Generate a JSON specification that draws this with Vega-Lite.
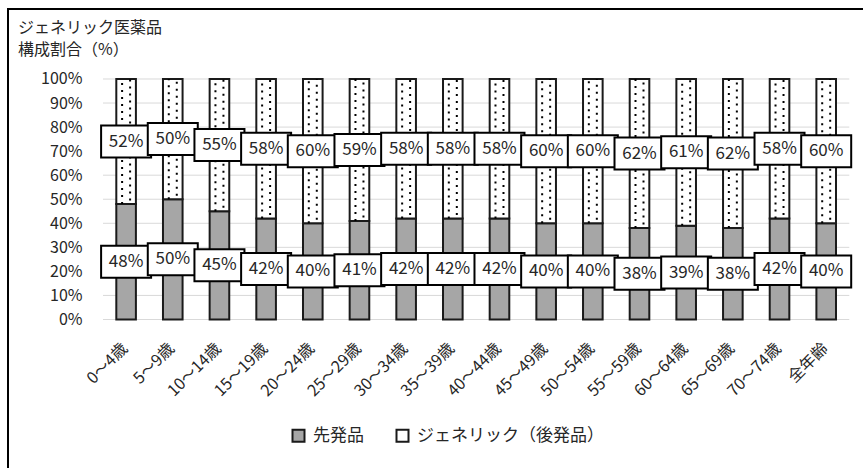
{
  "$schema": "https://vega.github.io/schema/vega-lite/v6.json",
  "width": 858,
  "height": 462,
  "autosize": {"type": "none"},
  "padding": {"left": 8, "top": 9, "right": -3, "bottom": -3},
  "background": "white",
  "title": {
    "text": ["ジェネリック医薬品", "構成割合（%）"],
    "anchor": "start",
    "frame": "group",
    "orient": "top",
    "offset": -49,
    "dx": 10,
    "fontSize": 16,
    "fontWeight": "normal",
    "lineHeight": 22,
    "color": "#262626",
    "font": "Noto Sans CJK JP"
  },
  "datasets": {
    "shares": [
      {"age": "0～4歳", "type": "先発品", "v": 0.48},
      {"age": "0～4歳", "type": "ジェネリック（後発品）", "v": 0.52},
      {"age": "5～9歳", "type": "先発品", "v": 0.50},
      {"age": "5～9歳", "type": "ジェネリック（後発品）", "v": 0.50},
      {"age": "10～14歳", "type": "先発品", "v": 0.45},
      {"age": "10～14歳", "type": "ジェネリック（後発品）", "v": 0.55},
      {"age": "15～19歳", "type": "先発品", "v": 0.42},
      {"age": "15～19歳", "type": "ジェネリック（後発品）", "v": 0.58},
      {"age": "20～24歳", "type": "先発品", "v": 0.40},
      {"age": "20～24歳", "type": "ジェネリック（後発品）", "v": 0.60},
      {"age": "25～29歳", "type": "先発品", "v": 0.41},
      {"age": "25～29歳", "type": "ジェネリック（後発品）", "v": 0.59},
      {"age": "30～34歳", "type": "先発品", "v": 0.42},
      {"age": "30～34歳", "type": "ジェネリック（後発品）", "v": 0.58},
      {"age": "35～39歳", "type": "先発品", "v": 0.42},
      {"age": "35～39歳", "type": "ジェネリック（後発品）", "v": 0.58},
      {"age": "40～44歳", "type": "先発品", "v": 0.42},
      {"age": "40～44歳", "type": "ジェネリック（後発品）", "v": 0.58},
      {"age": "45～49歳", "type": "先発品", "v": 0.40},
      {"age": "45～49歳", "type": "ジェネリック（後発品）", "v": 0.60},
      {"age": "50～54歳", "type": "先発品", "v": 0.40},
      {"age": "50～54歳", "type": "ジェネリック（後発品）", "v": 0.60},
      {"age": "55～59歳", "type": "先発品", "v": 0.38},
      {"age": "55～59歳", "type": "ジェネリック（後発品）", "v": 0.62},
      {"age": "60～64歳", "type": "先発品", "v": 0.39},
      {"age": "60～64歳", "type": "ジェネリック（後発品）", "v": 0.61},
      {"age": "65～69歳", "type": "先発品", "v": 0.38},
      {"age": "65～69歳", "type": "ジェネリック（後発品）", "v": 0.62},
      {"age": "70～74歳", "type": "先発品", "v": 0.42},
      {"age": "70～74歳", "type": "ジェネリック（後発品）", "v": 0.58},
      {"age": "全年齢", "type": "先発品", "v": 0.40},
      {"age": "全年齢", "type": "ジェネリック（後発品）", "v": 0.60}
    ],
    "grid": [
      {"g": 0}, {"g": 0.1}, {"g": 0.2}, {"g": 0.3}, {"g": 0.4}, {"g": 0.5},
      {"g": 0.6}, {"g": 0.7}, {"g": 0.8}, {"g": 0.9}, {"g": 1}
    ]
  },
  "layer": [
    {
      "data": {"name": "grid"},
      "mark": {"type": "rule", "color": "#d9d9d9", "strokeWidth": 1},
      "encoding": {
        "y": {
          "field": "g",
          "type": "quantitative",
          "title": null,
          "scale": {"domain": [-0.630, 1.291], "nice": false, "zero": false},
          "axis": {
            "orient": "left",
            "offset": -80,
            "values": [0, 0.1, 0.2, 0.3, 0.4, 0.5, 0.6, 0.7, 0.8, 0.9, 1],
            "format": ".0%",
            "domain": false,
            "ticks": false,
            "grid": false,
            "labelPadding": 6,
            "labelFontSize": 16,
            "labelColor": "#262626",
            "labelFont": "Noto Sans CJK JP",
            "title": null
          }
        },
        "x": {
          "datum": 0,
          "type": "quantitative",
          "scale": {"domain": [-0.1273, 1.0224], "nice": false, "zero": false},
          "axis": null
        },
        "x2": {"datum": 1}
      }
    },
    {
      "data": {"name": "shares"},
      "encoding": {
        "x": {
          "field": "age",
          "type": "nominal",
          "sort": null,
          "title": null,
          "scale": {"range": [95, 841.3], "paddingInner": 0.58, "paddingOuter": 0.285, "align": 0.5, "round": false},
          "axis": {
            "orient": "bottom",
            "offset": -151.5,
            "labelAngle": -45,
            "labelAlign": "right",
            "labelBaseline": "middle",
            "labelPadding": 26,
            "labelOffset": -1,
            "labelFontSize": 16,
            "labelColor": "#262626",
            "labelFont": "Noto Sans CJK JP",
            "labelOverlap": false,
            "domain": false,
            "ticks": false,
            "title": null
          }
        }
      },
      "layer": [
        {
          "mark": {"type": "bar", "stroke": "#1a1a1a", "strokeWidth": 2},
          "encoding": {
            "y": {"field": "v", "type": "quantitative", "stack": "zero", "title": null},
            "color": {
              "field": "type",
              "type": "nominal",
              "scale": {"domain": ["先発品", "ジェネリック（後発品）"], "range": ["#a6a6a6", "#ffffff"]},
              "legend": {
                "orient": "none",
                "legendX": 282,
                "legendY": 418,
                "direction": "horizontal",
                "title": null,
                "symbolType": "square",
                "symbolSize": 144,
                "symbolStrokeColor": "#1a1a1a",
                "symbolStrokeWidth": 2,
                "labelFontSize": 17,
                "labelColor": "#262626",
                "labelFont": "Noto Sans CJK JP",
                "labelOffset": 6,
                "labelLimit": 400,
                "columnPadding": 28
              }
            },
            "order": {"field": "type", "sort": "descending"}
          }
        },
        {
          "transform": [
            {"stack": "v", "groupby": ["age"], "sort": [{"field": "type", "order": "descending"}], "as": ["v0", "v1"]},
            {"filter": "datum.type === 'ジェネリック（後発品）'"}
          ],
          "mark": {"type": "rule", "color": "#000000", "strokeWidth": 2, "strokeDash": [2, 5], "xOffset": -4},
          "encoding": {
            "y": {"field": "v0", "type": "quantitative", "title": null},
            "y2": {"field": "v1"}
          }
        },
        {
          "transform": [
            {"stack": "v", "groupby": ["age"], "sort": [{"field": "type", "order": "descending"}], "as": ["v0", "v1"]},
            {"filter": "datum.type === 'ジェネリック（後発品）'"}
          ],
          "mark": {"type": "rule", "color": "#000000", "strokeWidth": 2, "strokeDash": [2, 5], "strokeDashOffset": 3.5, "xOffset": 4},
          "encoding": {
            "y": {"field": "v0", "type": "quantitative", "title": null},
            "y2": {"field": "v1"}
          }
        },
        {
          "mark": {
            "type": "point",
            "shape": "M-1,-0.64L1,-0.64L1,0.64L-1,0.64Z",
            "size": 2500,
            "filled": true,
            "fill": "#ffffff",
            "stroke": "#000000",
            "strokeWidth": 2,
            "opacity": 1
          },
          "encoding": {
            "y": {"field": "v", "type": "quantitative", "stack": "zero", "bandPosition": 0.5, "title": null},
            "detail": {"field": "type"},
            "order": {"field": "type", "sort": "descending"}
          }
        },
        {
          "mark": {"type": "text", "fontSize": 17, "color": "#262626", "font": "Noto Sans CJK JP", "baseline": "middle", "align": "center"},
          "encoding": {
            "y": {"field": "v", "type": "quantitative", "stack": "zero", "bandPosition": 0.5, "title": null},
            "detail": {"field": "type"},
            "order": {"field": "type", "sort": "descending"},
            "text": {"field": "v", "type": "quantitative", "format": ".0%"}
          }
        }
      ]
    }
  ],
  "resolve": {"scale": {"x": "independent"}},
  "config": {
    "view": {"stroke": "#000000", "strokeWidth": 2},
    "font": "Noto Sans CJK JP"
  }
}
